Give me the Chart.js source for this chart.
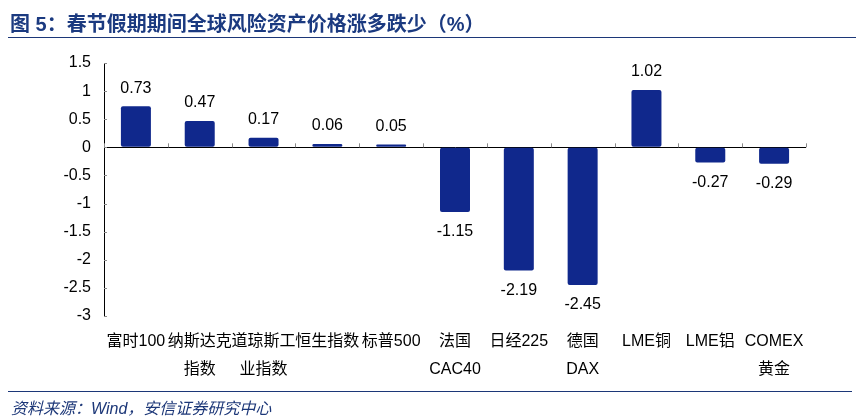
<!DOCTYPE html>
<html>
<head>
<meta charset="utf-8">
<script src="https://cdn.jsdelivr.net/npm/chart.js@4"></script>
<style>
  html, body { margin: 0; padding: 0; background: #fff; }
  #wrap { position: relative; width: 864px; height: 419px; overflow: hidden; }
  #chartBox { position: absolute; left: 0; top: 0; width: 864px; height: 419px; }
  #title { position: absolute; left: 10px; top: 8px; font: bold 20px "Liberation Sans", "Noto Sans CJK SC", sans-serif; color: #1b3a80; white-space: nowrap; }
  #tline { position: absolute; left: 8px; top: 37px; width: 848px; height: 0; border-top: 1.3px solid #1c3778; }
  #bline { position: absolute; left: 8px; top: 391px; width: 844px; height: 0; border-top: 1.3px solid #1c3778; }
  #foot { position: absolute; left: 11px; top: 395px; font: italic 16px "Liberation Sans", "Noto Sans CJK SC", sans-serif; color: #1c3778; white-space: nowrap; }
</style>
</head>
<body>
<div id="wrap">
  <div id="chartBox"><canvas id="c"></canvas></div>
  <div id="title">图 5：春节假期期间全球风险资产价格涨多跌少（%）</div>
  <div id="tline"></div>
  <div id="bline"></div>
  <div id="foot">资料来源：Wind，安信证券研究中心</div>
</div>
<script>
const categories = [
  "富时100",
  ["纳斯达克", "指数"],
  ["道琼斯工", "业指数"],
  "恒生指数",
  "标普500",
  ["法国", "CAC40"],
  "日经225",
  ["德国", "DAX"],
  "LME铜",
  "LME铝",
  ["COMEX", "黄金"]
];
const changes = [0.73, 0.47, 0.17, 0.06, 0.05, -1.15, -2.19, -2.45, 1.02, -0.27, -0.29];
const valueLabels = ["0.73", "0.47", "0.17", "0.06", "0.05", "-1.15", "-2.19", "-2.45", "1.02", "-0.27", "-0.29"];
const yMin = -3, yMax = 1.5, yStep = 0.5;

const FONT = '"Liberation Sans", "Noto Sans CJK SC", sans-serif';

const decor = {
  id: 'decor',
  afterDatasetsDraw(chart) {
    const ctx = chart.ctx;
    const x = chart.scales.x, y = chart.scales.y;
    const zeroY = y.getPixelForValue(0);
    ctx.save();
    ctx.strokeStyle = '#8a8a8a';
    ctx.lineWidth = 1;
    ctx.beginPath();
    for (let i = 0; i <= categories.length; i++) {
      const px = Math.round(x.left + (x.right - x.left) * i / categories.length) + 0.5;
      ctx.moveTo(px, zeroY - 4);
      ctx.lineTo(px, zeroY);
    }
    y.ticks.forEach(t => {
      const py = Math.round(y.getPixelForValue(t.value)) + 0.5;
      ctx.moveTo(x.left, py);
      ctx.lineTo(x.left + 3, py);
    });
    ctx.stroke();
    ctx.fillStyle = '#000';
    ctx.font = '16px ' + FONT;
    ctx.textAlign = 'center';
    ctx.textBaseline = 'middle';
    const meta = chart.getDatasetMeta(0);
    meta.data.forEach((bar, i) => {
      const v = changes[i];
      const ty = v >= 0 ? bar.y - 18 : bar.y + 20;
      ctx.fillText(valueLabels[i], bar.x, ty);
    });
    ctx.restore();
  }
};

new Chart(document.getElementById('c'), {
  type: 'bar',
  data: {
    labels: categories,
    datasets: [{
      data: changes,
      backgroundColor: '#10288c',
      borderWidth: 0,
      borderRadius: 2,
      borderSkipped: false,
      barPercentage: 0.47,
      categoryPercentage: 1.0
    }]
  },
  options: {
    responsive: true,
    maintainAspectRatio: false,
    animation: false,
    layout: { padding: { top: 63, right: 58, left: 0, bottom: 0 } },
    plugins: { legend: { display: false }, tooltip: { enabled: false } },
    scales: {
      x: {
        grid: { display: false },
        border: { display: false },
        ticks: {
          color: '#000',
          font: { family: FONT, size: 16, lineHeight: 1.75 },
          padding: 4,
          maxRotation: 0,
          autoSkip: false
        },
        afterFit(s) { s.height = 103; }
      },
      y: {
        min: yMin,
        max: yMax,
        grid: {
          drawTicks: false,
          color: ctx => (ctx.tick && ctx.tick.value === 0) ? '#000' : 'rgba(0,0,0,0)',
          lineWidth: 1
        },
        border: { display: true, color: '#000', width: 1 },
        ticks: {
          stepSize: yStep,
          color: '#000',
          font: { family: FONT, size: 16 },
          padding: 13,
          callback: v => String(Math.round(v * 10) / 10)
        },
        afterFit(s) { s.width = 104; }
      }
    }
  },
  plugins: [decor]
});
</script>
</body>
</html>
